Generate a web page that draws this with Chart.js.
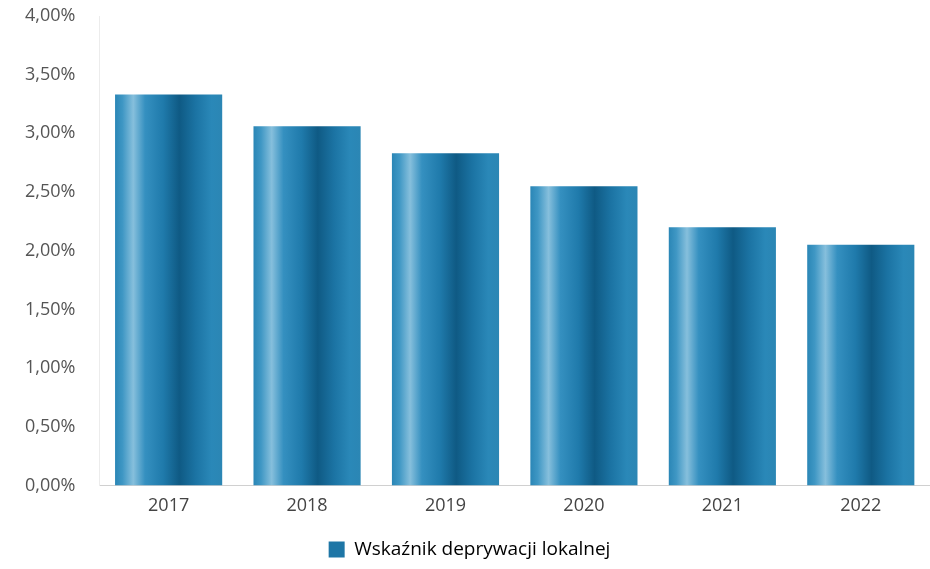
<!DOCTYPE html>
<html>
<head>
<meta charset="utf-8">
<script src="https://cdn.jsdelivr.net/npm/chart.js@4/dist/chart.umd.min.js"></script>
<style>
  html, body { margin: 0; padding: 0; background: #ffffff; }
  #wrap { width: 930px; height: 569px; position: relative; }
</style>
</head>
<body>
<div id="wrap"><canvas id="c"></canvas></div>
<script>
const categories = ['2017', '2018', '2019', '2020', '2021', '2022'];
const seriesName = 'Wskaźnik deprywacji lokalnej';
const seriesValues = [3.33, 3.06, 2.83, 2.55, 2.20, 2.05];
const yTicks = [0, 0.5, 1, 1.5, 2, 2.5, 3, 3.5, 4];

function barGradient(ctx, x0, x1) {
  const g = ctx.createLinearGradient(x0, 0, x1, 0);
  g.addColorStop(0.00, '#2a86b6');
  g.addColorStop(0.07, '#3f97c4');
  g.addColorStop(0.17, '#86bfdc');
  g.addColorStop(0.28, '#3590c0');
  g.addColorStop(0.45, '#1f7aab');
  g.addColorStop(0.60, '#0f5a84');
  g.addColorStop(0.75, '#1b73a3');
  g.addColorStop(0.90, '#2a88b8');
  g.addColorStop(1.00, '#2b86b4');
  return g;
}

const gradientPlugin = {
  id: 'barGradient',
  beforeDatasetsDraw(chart) {
    const ctx = chart.ctx;
    chart.data.datasets.forEach((ds, i) => {
      const meta = chart.getDatasetMeta(i);
      meta.data.forEach(el => {
        const x0 = el.x - el.width / 2;
        const x1 = el.x + el.width / 2;
        el.options = Object.assign({}, el.options, { backgroundColor: barGradient(ctx, x0, x1) });
      });
    });
  }
};

const FONT = 'Open Sans';

new Chart(document.getElementById('c'), {
  type: 'bar',
  data: {
    labels: categories,
    datasets: [{
      label: seriesName,
      data: seriesValues,
      backgroundColor: '#1f78a8',
      borderWidth: 0,
      barPercentage: 0.86,
      categoryPercentage: 0.9
    }]
  },
  options: {
    responsive: true,
    maintainAspectRatio: false,
    animation: false,
    layout: { autoPadding: false, padding: { top: 16, right: 0, left: 9, bottom: 0 } },
    plugins: {
      legend: {
        position: 'bottom',
        labels: {
          color: '#444',
          font: { family: FONT, size: 19 },
          boxWidth: 16,
          boxHeight: 16,
          padding: 12,
          generateLabels(chart) {
            return [{
              text: seriesName,
              fillStyle: '#1e76a6',
              strokeStyle: '#1e76a6',
              lineWidth: 0,
              datasetIndex: 0
            }];
          }
        }
      },
      tooltip: { enabled: false }
    },
    scales: {
      x: {
        grid: { display: false },
        border: { display: true, color: '#d0d0d0' },
        afterFit(axis) { axis.height += 9; },
        ticks: {
          color: '#444',
          font: { family: FONT, size: 18 },
          padding: 2
        }
      },
      y: {
        min: 0,
        max: 4,
        afterBuildTicks(axis) { axis.ticks = yTicks.map(v => ({ value: v })); },
        afterFit(axis) { axis.paddingTop = 0; axis.paddingBottom = 0; },
        grid: { display: false },
        border: { display: true, color: '#ececec' },
        ticks: {
          color: '#555',
          font: { family: FONT, size: 18 },
          padding: 16,
          callback: v => Number(v).toFixed(2).replace('.', ',') + '%'
        }
      }
    }
  },
  plugins: [gradientPlugin]
});
</script>
</body>
</html>
